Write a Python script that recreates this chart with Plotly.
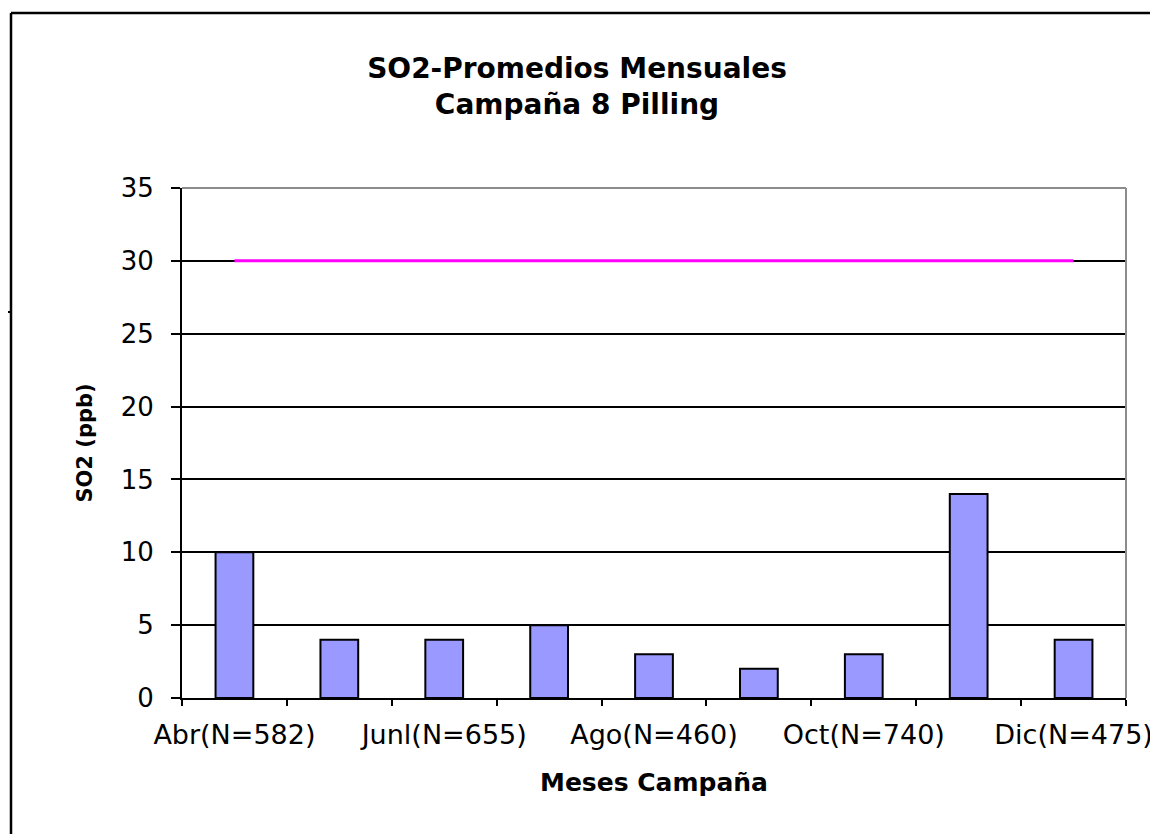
import plotly.graph_objects as go

# ---- data ----
categories = ["Abr(N=582)", "May", "Junl(N=655)", "Jul", "Ago(N=460)",
              "Sep", "Oct(N=740)", "Nov", "Dic(N=475)"]
tick_labels = ["Abr(N=582)", "", "Junl(N=655)", "", "Ago(N=460)",
               "", "Oct(N=740)", "", "Dic(N=475)"]
so2_values = [10, 4, 4, 5, 3, 2, 3, 14, 4]
norma_values = [30, 30, 30, 30, 30, 30, 30, 30, 30]
y_ticks = [0, 5, 10, 15, 20, 25, 30, 35]

# page body has an 8px margin, so the figure is 8px smaller and offset
OFF = 8
W, H = 1158 - OFF, 834 - OFF
ML, MR, MT, MB = 182 - OFF, 32, 188 - OFF, 136
PW, PH = W - ML - MR, H - MT - MB

def px_x(x):
    return (x - OFF - ML) / PW

def px_y(y):
    return (H - MB - (y - OFF)) / PH

FONT = "DejaVu Sans"

fig = go.Figure()
fig.add_trace(go.Bar(
    x=categories, y=so2_values,
    marker=dict(color="#9999FF", line=dict(color="black", width=2)),
    showlegend=False,
))
fig.add_trace(go.Scatter(
    x=categories, y=norma_values, mode="lines",
    line=dict(color="#FF00FF", width=3),
    showlegend=False,
))

shapes = [
    dict(type="line", xref="paper", yref="paper", x0=0, x1=1, y0=1, y1=1,
         line=dict(color="#8c8c8c", width=2), layer="above"),
    dict(type="line", xref="paper", yref="paper", x0=1, x1=1, y0=0, y1=1,
         line=dict(color="#8c8c8c", width=2), layer="above"),
    dict(type="line", xref="paper", yref="paper", x0=px_x(11), x1=px_x(11),
         y0=px_y(13), y1=px_y(834 + 5), line=dict(color="black", width=2.5)),
    dict(type="line", xref="paper", yref="paper", x0=px_x(11), x1=px_x(1158 + 5),
         y0=px_y(13), y1=px_y(13), line=dict(color="black", width=2.5)),
    dict(type="line", xref="paper", yref="paper", x0=px_x(-5), x1=px_x(11),
         y0=px_y(312), y1=px_y(312), line=dict(color="black", width=2)),
]

fig.update_layout(
    width=W, height=H,
    margin=dict(l=ML, r=MR, t=MT, b=MB, autoexpand=False),
    paper_bgcolor="white", plot_bgcolor="white",
    font=dict(family=FONT, color="black"),
    bargap=0.64,
    title=dict(
        text="<b>SO2-Promedios Mensuales<br>Campaña 8 Pilling</b>",
        x=(577 - OFF) / W, xref="container", xanchor="center",
        y=1 - (78 - OFF) / H, yref="container", yanchor="top",
        font=dict(family=FONT, size=28, color="black"),
    ),
    shapes=shapes,
    xaxis=dict(
        type="category",
        tickmode="array", tickvals=categories, ticktext=tick_labels,
        tickson="boundaries", tickangle=0,
        ticks="outside", ticklen=6, tickwidth=2, tickcolor="black",
        showline=True, linecolor="black", linewidth=2,
        showgrid=False,
        tickfont=dict(family=FONT, size=27, color="black"),
        ticklabelstandoff=12,
        title=dict(text="<b>Meses Campaña</b>", standoff=24,
                   font=dict(family=FONT, size=25, color="black")),
        range=[-0.5, 8.5],
        automargin=False,
    ),
    yaxis=dict(
        range=[0, 35], tickvals=y_ticks,
        ticks="outside", ticklen=9, tickwidth=2, tickcolor="black",
        showline=True, linecolor="black", linewidth=2,
        showgrid=True, gridcolor="black", gridwidth=1.5,
        zeroline=False,
        tickfont=dict(family=FONT, size=26, color="black"),
        ticklabelstandoff=12,
        title=dict(text="<b>SO2 (ppb)</b>", standoff=22,
                   font=dict(family=FONT, size=21, color="black")),
        automargin=False,
    ),
)

fig.write_html("out.html")
